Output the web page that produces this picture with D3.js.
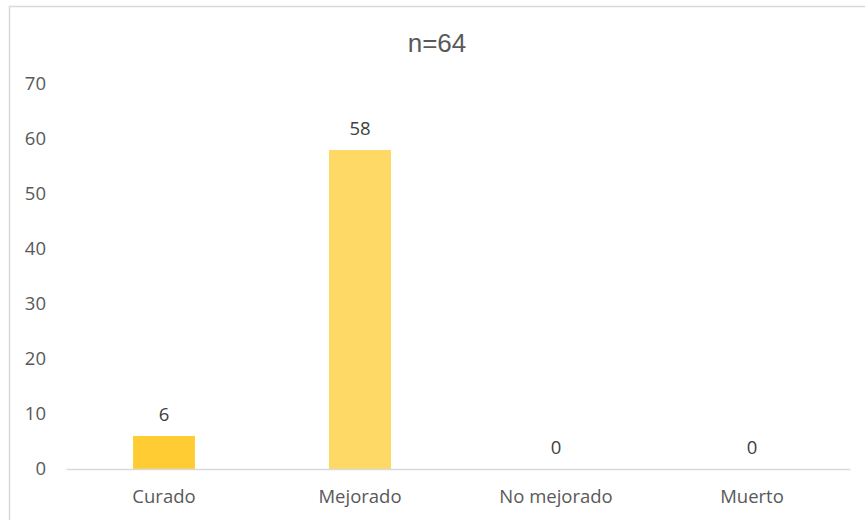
<!DOCTYPE html>
<html>
<head>
<meta charset="utf-8">
<script src="https://cdn.jsdelivr.net/npm/d3@7"></script>
<style>
  html, body { margin: 0; padding: 0; background: #fff; }
  svg { display: block; }
</style>
</head>
<body>
<svg id="chart" width="865" height="520"></svg>
<script>
// Outcome categories and patient counts
const categories = ["Curado", "Mejorado", "No mejorado", "Muerto"];
const counts = [6, 58, 0, 0];
const barColors = ["#FFCD33", "#FFD966", "#FFD966", "#FFD966"];
const yTicks = [0, 10, 20, 30, 40, 50, 60, 70];
const title = "n=64";

const svg = d3.select("#chart");
const W = 865, H = 520;
const margin = { top: 84, right: 15, bottom: 51, left: 66 };
const innerW = W - margin.left - margin.right;
const innerH = H - margin.top - margin.bottom;
const labelFont = "'Open Sans', sans-serif";
const labelSize = 18.5;

// Chart frame
svg.append("rect")
  .attr("x", 9.5).attr("y", 6.5)
  .attr("width", 870).attr("height", 530)
  .attr("fill", "#fff")
  .attr("stroke", "#d9d9d9")
  .attr("stroke-width", 1.5);

svg.append("text")
  .attr("x", 437).attr("y", 52)
  .attr("text-anchor", "middle")
  .attr("font-family", "'Liberation Sans', Arial, sans-serif")
  .attr("font-size", 26)
  .attr("fill", "#595959")
  .text(title);

const g = svg.append("g").attr("transform", `translate(${margin.left},${margin.top})`);

const x = d3.scaleBand().domain(categories).range([0, innerW]).padding(0);
const y = d3.scaleLinear().domain([0, 70]).range([innerH, 0]);
const barW = x.bandwidth() * 0.316;

// Y axis labels only (no line, no ticks)
const yAxis = g.append("g").call(d3.axisLeft(y).tickValues(yTicks).tickSize(0).tickPadding(20));
yAxis.select(".domain").remove();
yAxis.selectAll("text")
  .attr("font-family", labelFont)
  .attr("font-size", labelSize)
  .attr("fill", "#595959");

// Bars
g.selectAll("rect.bar")
  .data(counts)
  .join("rect")
  .attr("class", "bar")
  .attr("x", (d, i) => x(categories[i]) + (x.bandwidth() - barW) / 2)
  .attr("y", d => y(d))
  .attr("width", barW)
  .attr("height", d => innerH - y(d))
  .attr("fill", (d, i) => barColors[i]);

// Value labels
g.selectAll("text.val")
  .data(counts)
  .join("text")
  .attr("class", "val")
  .attr("x", (d, i) => x(categories[i]) + x.bandwidth() / 2)
  .attr("y", d => y(d) - 15)
  .attr("text-anchor", "middle")
  .attr("font-family", labelFont)
  .attr("font-size", labelSize)
  .attr("fill", "#404040")
  .text(d => d);

// X axis
const xAxis = g.append("g")
  .attr("transform", `translate(0,${innerH})`)
  .call(d3.axisBottom(x).tickSize(0).tickPadding(21));
xAxis.select(".domain").attr("stroke", "#d9d9d9").attr("stroke-width", 1.5);
xAxis.selectAll("text")
  .attr("font-family", labelFont)
  .attr("font-size", labelSize)
  .attr("fill", "#595959");
</script>
</body>
</html>
